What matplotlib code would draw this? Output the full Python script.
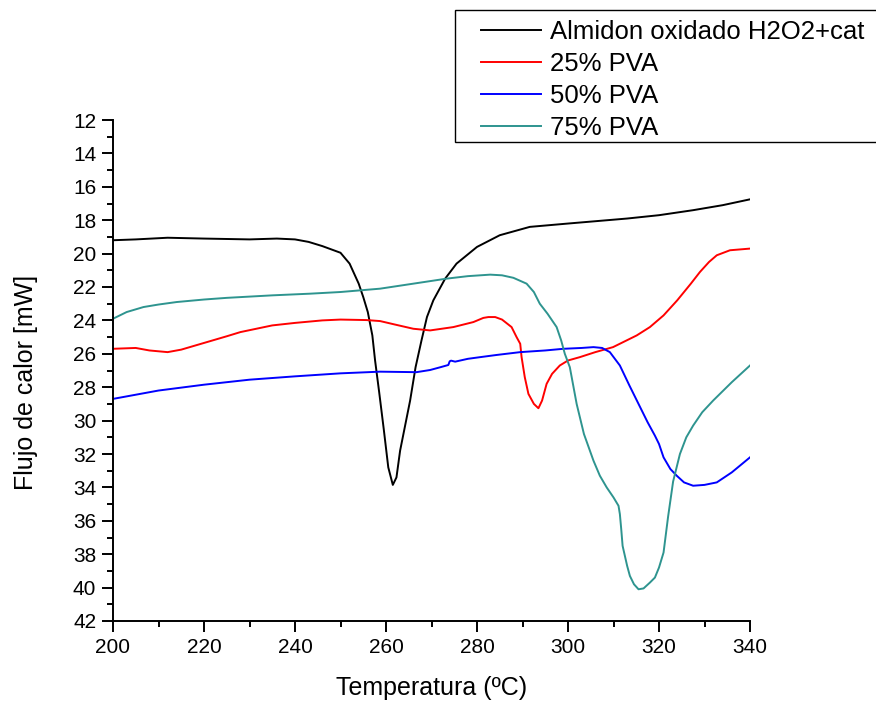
import matplotlib
matplotlib.use("Agg")
import matplotlib.pyplot as plt
from matplotlib.patches import Rectangle
from matplotlib.ticker import MultipleLocator

plt.rcParams['font.family'] = ['Liberation Sans', 'DejaVu Sans']

# --- data (temperature in C, heat flow in mW) ---
t_almidon = [200, 205, 212, 220, 230, 236, 240, 243, 246, 248, 250, 252, 254, 255, 256,
             257, 257.6, 258.5, 259.5, 260.5, 261.5, 262.3, 263.1, 264.2, 265.3, 266.5,
             267.8, 269, 270.4, 273, 275.5, 280, 285, 291.6, 300, 313, 320, 327.5, 334, 340]
y_almidon = [19.2, 19.15, 19.05, 19.1, 19.15, 19.1, 19.15, 19.3, 19.55, 19.75, 19.95, 20.6,
             21.8, 22.6, 23.5, 24.9, 26.4, 28.3, 30.5, 32.8, 33.85, 33.4, 31.8, 30.3, 28.8,
             26.8, 25.2, 23.8, 22.8, 21.5, 20.6, 19.6, 18.9, 18.4, 18.2, 17.9, 17.7, 17.4,
             17.1, 16.75]

t_pva25 = [200, 205, 208, 212, 215, 220, 225, 228, 235, 240, 246, 250, 255.7, 258.7, 262,
           266, 269.7, 274.8, 279.2, 281.4, 282.5, 284, 285.5, 287.6, 288.7, 289.5, 289.8,
           290.5, 291.3, 292.5, 293.5, 294.3, 295.3, 296.5, 298.2, 300, 302.6, 306, 309.9,
           315.1, 318, 321, 324, 327, 329, 331, 332.7, 335.6, 340]
y_pva25 = [25.7, 25.65, 25.8, 25.9, 25.75, 25.35, 24.95, 24.7, 24.3, 24.15, 24.0, 23.95,
           23.98, 24.04, 24.25, 24.5, 24.6, 24.4, 24.1, 23.85, 23.8, 23.8, 23.95, 24.4, 25.0,
           25.4, 26.2, 27.4, 28.4, 29.0, 29.26, 28.8, 27.8, 27.2, 26.7, 26.4, 26.2, 25.9,
           25.6, 24.9, 24.4, 23.7, 22.8, 21.8, 21.1, 20.5, 20.1, 19.8, 19.7]

t_pva50 = [200, 210, 220, 230, 240, 250, 258.7, 266.7, 269.7, 272, 273.7, 274.0, 274.3,
           275.2, 278, 280.7, 284.3, 289.5, 295, 299, 303, 305.6, 307.5, 309.2, 311.4,
           313.5, 315.5, 317.5, 319.1, 320, 321, 322.5, 323.9, 325.5, 327.5, 330, 332.7,
           336, 340]
y_pva50 = [28.7, 28.2, 27.85, 27.55, 27.35, 27.17, 27.07, 27.1, 26.97, 26.8, 26.67, 26.45,
           26.41, 26.47, 26.3, 26.2, 26.07, 25.9, 25.8, 25.7, 25.65, 25.6, 25.65, 25.9, 26.7,
           27.9, 29.0, 30.1, 30.9, 31.4, 32.2, 32.9, 33.3, 33.7, 33.9, 33.85, 33.7, 33.1,
           32.2]

t_pva75 = [200, 203, 206.7, 210, 214, 220, 225, 235, 243.3, 250, 258.7, 266, 273.3, 278,
           282.9, 285.5, 288, 290.9, 292.5, 293.8, 295.5, 297.5, 298.5, 299.3, 300.4, 301.9,
           303.5, 305.6, 307, 308.5, 310, 311.1, 311.4, 311.7, 312, 313, 313.6, 314.5, 315.5,
           316.6, 318, 319.1, 320, 321, 322, 323.1, 324.6, 326, 327.5, 329.5, 331.9, 336, 340]
y_pva75 = [23.9, 23.5, 23.2, 23.05, 22.9, 22.75, 22.65, 22.5, 22.4, 22.3, 22.1, 21.8, 21.5,
           21.35, 21.26, 21.3, 21.45, 21.8, 22.3, 23.0, 23.6, 24.4, 25.2, 26.0, 26.8, 29.0,
           30.8, 32.4, 33.3, 34.0, 34.6, 35.1, 35.6, 36.5, 37.5, 38.7, 39.3, 39.8, 40.1,
           40.05, 39.7, 39.4, 38.8, 37.9, 35.75, 33.65, 32.0, 31.0, 30.3, 29.5, 28.8, 27.7,
           26.7]

labels = ["Almidon oxidado H2O2+cat", "25% PVA", "50% PVA", "75% PVA"]
colors = ["black", "#FF0000", "#0000FF", "#2E948F"]

fig = plt.figure(figsize=(8.76, 7.04), dpi=100)
ax = fig.add_axes([113 / 876, 1 - 621 / 704, 637 / 876, 501 / 704])

series = [(t_almidon, y_almidon), (t_pva25, y_pva25), (t_pva50, y_pva50), (t_pva75, y_pva75)]
lines = []
for (t, y), lab, c in zip(series, labels, colors):
    ln, = ax.plot(t, y, color=c, lw=1.4, label=lab)
    lines.append(ln)

ax.set_xlim(200, 340)
ax.set_ylim(42, 12)
ax.xaxis.set_major_locator(MultipleLocator(20))
ax.xaxis.set_minor_locator(MultipleLocator(10))
ax.yaxis.set_major_locator(MultipleLocator(2))
ax.yaxis.set_minor_locator(MultipleLocator(1))

for side in ["top", "right"]:
    ax.spines[side].set_visible(False)
for side in ["left", "bottom"]:
    ax.spines[side].set_linewidth(1.4)
ax.tick_params(which="major", direction="out", length=8, width=1.4, labelsize=15, pad=4)
ax.tick_params(which="minor", direction="out", length=4.5, width=1.4)

ax.set_xlabel("Temperatura (ºC)", fontsize=18)
ax.set_ylabel("Flujo de calor [mW]", fontsize=18)
ax.xaxis.set_label_coords(0.5, -0.11)
ax.yaxis.set_label_coords(-0.118, 0.477)

# legend box (extends past the right edge in the original)
box = Rectangle((455 / 876, 1 - 141.7 / 704), 430 / 876, 131.7 / 704,
                transform=fig.transFigure, facecolor="white", edgecolor="black",
                lw=1.0, clip_on=False, zorder=5)
fig.patches.append(box)
leg = fig.legend(lines, labels, loc="upper left", bbox_to_anchor=(481 / 876, 1 - 20 / 704),
                 frameon=False, fontsize=18.5, borderpad=0, borderaxespad=0,
                 handlelength=2.35, handletextpad=0.33, labelspacing=0.31)
leg.set_zorder(6)

fig.savefig("out.png", dpi=100)
